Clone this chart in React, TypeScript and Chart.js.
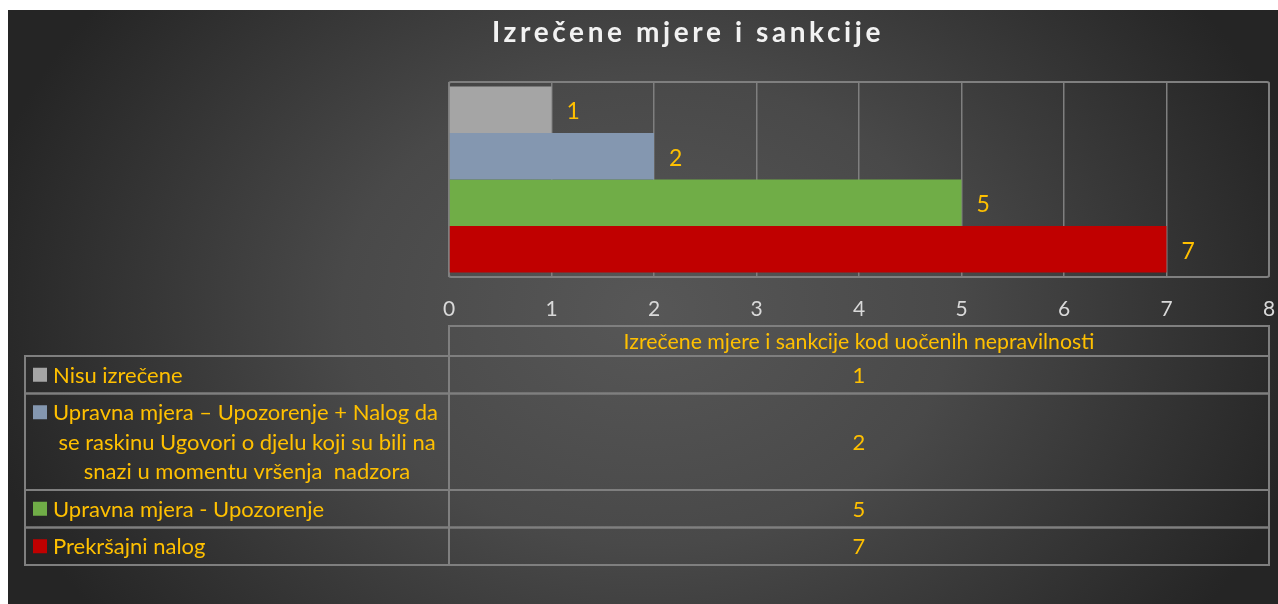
import React, { useEffect, useRef } from "react";
import { Chart, registerables } from "chart.js";
Chart.register(...registerables);

const chartTitle = "Izrečene mjere i sankcije";
const seriesName = "Izrečene mjere i sankcije kod uočenih nepravilnosti";
const categories = [
  "Nisu izrečene",
  "Upravna mjera – Upozorenje + Nalog da se raskinu Ugovori o djelu koji su bili na snazi u momentu vršenja  nadzora",
  "Upravna mjera - Upozorenje",
  "Prekršajni nalog",
];
const categoryLines = [
  ["Nisu izrečene"],
  ["Upravna mjera – Upozorenje + Nalog da", "se raskinu Ugovori o djelu koji su bili na", "snazi u momentu vršenja  nadzora"],
  ["Upravna mjera - Upozorenje"],
  ["Prekršajni nalog"],
];
const values = [1, 2, 5, 7];
const colors = ["#A5A5A5", "#8497B0", "#70AD47", "#C00000"];
const axisMin = 0;
const axisMax = 8;
const axisStep = 1;

const FONT = "Lato, 'Noto Sans', sans-serif";
const YELLOW = "#FFC000";
const LINE = "#7f7f7f";

const W = 1270;
const H = 594;

const decorPlugin = {
  id: "decor",
  beforeDraw(chart: any) {
    const ctx = chart.ctx as CanvasRenderingContext2D;
    ctx.save();
    const cx = 640, cy = 300, rx = 680, ry = 520;
    ctx.translate(cx, cy);
    ctx.scale(1, ry / rx);
    const g = ctx.createRadialGradient(0, 0, 0, 0, 0, rx);
    g.addColorStop(0, "#575757");
    g.addColorStop(0.45, "#494949");
    g.addColorStop(1, "#252525");
    ctx.fillStyle = g;
    ctx.fillRect(-cx - 10, -cy * (rx / ry) - 400, W + 20, H * (rx / ry) + 800);
    ctx.restore();
  },
  beforeDatasetsDraw(chart: any) {
    const ctx = chart.ctx as CanvasRenderingContext2D;
    const a = chart.chartArea;
    ctx.save();
    ctx.strokeStyle = LINE;
    ctx.lineWidth = 2;
    ctx.beginPath();
    (ctx as any).roundRect(a.left, a.top, a.right - a.left, a.bottom - a.top, 2);
    ctx.stroke();
    ctx.restore();
  },
  afterDatasetsDraw(chart: any) {
    const ctx = chart.ctx as CanvasRenderingContext2D;
    ctx.save();
    ctx.fillStyle = YELLOW;
    ctx.font = `23px ${FONT}`;
    ctx.textAlign = "left";
    ctx.textBaseline = "middle";
    chart.data.datasets.forEach((ds: any, i: number) => {
      const meta = chart.getDatasetMeta(i);
      const el = meta.data[0];
      if (!el) return;
      ctx.fillText(String(ds.data[0]), el.x + 15, el.y + 2);
    });
    ctx.restore();
  },
  afterDraw(chart: any) {
    const ctx = chart.ctx as CanvasRenderingContext2D;
    const a = chart.chartArea;
    ctx.save();
    // title
    ctx.fillStyle = "#f2f2f2";
    ctx.font = `bold 28px ${FONT}`;
    (ctx as any).letterSpacing = "3.6px";
    ctx.textAlign = "center";
    ctx.textBaseline = "middle";
    ctx.fillText(chartTitle, 680, 23);
    (ctx as any).letterSpacing = "0px";

    // data table
    const tableLeft = 17;
    const split = a.left;
    const right = a.right;
    const headerTop = 316;
    const headerBottom = 346;
    const lineH = 29.5;
    const pad = 4;
    ctx.strokeStyle = LINE;
    ctx.lineWidth = 2;
    ctx.fillStyle = YELLOW;
    ctx.textBaseline = "middle";

    ctx.strokeRect(split, headerTop, right - split, headerBottom - headerTop);
    ctx.textAlign = "center";
    ctx.font = `21.3px ${FONT}`;
    ctx.fillText(seriesName, (split + right) / 2, (headerTop + headerBottom) / 2 + 1);

    ctx.font = `22px ${FONT}`;
    let top = headerBottom;
    categoryLines.forEach((lines, i) => {
      const h = pad * 2 + lineH * lines.length;
      ctx.strokeRect(tableLeft, top, split - tableLeft, h);
      ctx.strokeRect(split, top, right - split, h);
      const textX = 45;
      const textRight = split - 8;
      const firstY = top + pad + lineH / 2;
      ctx.fillStyle = colors[i];
      ctx.fillRect(25, firstY - 7, 14, 14);
      ctx.fillStyle = YELLOW;
      lines.forEach((ln, k) => {
        const y = top + pad + lineH * (k + 0.5) + 1;
        if (k === 0) {
          ctx.textAlign = "left";
          ctx.fillText(ln, textX, y);
        } else {
          ctx.textAlign = "center";
          ctx.fillText(ln, (textX + textRight) / 2, y);
        }
      });
      ctx.textAlign = "center";
      ctx.fillText(String(values[i]), (split + right) / 2, top + h / 2 + 1);
      top += h;
    });
    ctx.restore();
  },
};

export default function App() {
  const ref = useRef<HTMLCanvasElement>(null);
  useEffect(() => {
    document.body.style.overflow = "hidden";
    if (!ref.current) return;
    const chart = new Chart(ref.current, {
      type: "bar",
      data: {
        labels: [seriesName],
        datasets: values.map((v, i) => ({
          label: categories[i],
          data: [v],
          backgroundColor: colors[i],
          borderWidth: 0,
          categoryPercentage: 0.955,
          barPercentage: 1,
        })),
      },
      options: {
        indexAxis: "y",
        responsive: false,
        maintainAspectRatio: false,
        animation: false,
        layout: { padding: { left: 441, right: 9, top: 72, bottom: 277 } },
        plugins: {
          legend: { display: false },
          title: { display: false },
          tooltip: { enabled: false },
        },
        scales: {
          x: {
            type: "linear",
            min: axisMin,
            max: axisMax,
            ticks: {
              stepSize: axisStep,
              color: "#d9d9d9",
              font: { family: FONT, size: 21 },
              padding: 20,
            },
            grid: { color: LINE, lineWidth: 1.5, drawTicks: false },
            border: { display: false },
            afterFit: (s: any) => {
              s.height = 50;
              s.paddingLeft = 0;
              s.paddingRight = 0;
            },
          },
          y: { display: false },
        },
      } as any,
      plugins: [decorPlugin],
    });
    return () => chart.destroy();
  }, []);
  return (
    <div style={{ position: "fixed", left: 8, top: 10, width: W, height: H }}>
      <canvas ref={ref} width={W} height={H} style={{ display: "block" }} />
    </div>
  );
}
